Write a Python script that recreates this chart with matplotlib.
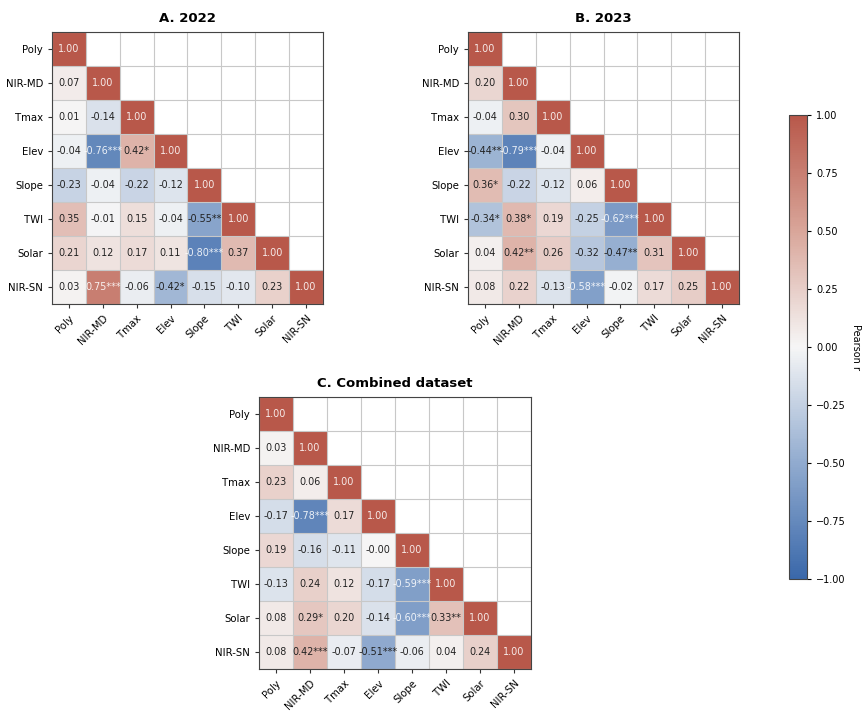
import numpy as np
import matplotlib
matplotlib.use("Agg")
import matplotlib.pyplot as plt
from matplotlib.colors import LinearSegmentedColormap
from matplotlib.ticker import FuncFormatter

variables = ["Poly", "NIR-MD", "Tmax", "Elev", "Slope", "TWI", "Solar", "NIR-SN"]

# lower triangle, row by row (row i has i values left of the diagonal)
r_2022 = [
    [],
    [0.07],
    [0.01, -0.14],
    [-0.04, -0.76, 0.42],
    [-0.23, -0.04, -0.22, -0.12],
    [0.35, -0.01, 0.15, -0.04, -0.55],
    [0.21, 0.12, 0.17, 0.11, -0.80, 0.37],
    [0.03, 0.75, -0.06, -0.42, -0.15, -0.10, 0.23],
]
sig_2022 = [
    [],
    [""],
    ["", ""],
    ["", "***", "*"],
    ["", "", "", ""],
    ["", "", "", "", "**"],
    ["", "", "", "", "***", ""],
    ["", "***", "", "*", "", "", ""],
]

r_2023 = [
    [],
    [0.20],
    [-0.04, 0.30],
    [-0.44, -0.79, -0.04],
    [0.36, -0.22, -0.12, 0.06],
    [-0.34, 0.38, 0.19, -0.25, -0.62],
    [0.04, 0.42, 0.26, -0.32, -0.47, 0.31],
    [0.08, 0.22, -0.13, -0.58, -0.02, 0.17, 0.25],
]
sig_2023 = [
    [],
    [""],
    ["", ""],
    ["**", "***", ""],
    ["*", "", "", ""],
    ["*", "*", "", "", "***"],
    ["", "**", "", "", "**", ""],
    ["", "", "", "***", "", "", ""],
]

r_comb = [
    [],
    [0.03],
    [0.23, 0.06],
    [-0.17, -0.78, 0.17],
    [0.19, -0.16, -0.11, -0.00],
    [-0.13, 0.24, 0.12, -0.17, -0.59],
    [0.08, 0.29, 0.20, -0.14, -0.60, 0.33],
    [0.08, 0.42, -0.07, -0.51, -0.06, 0.04, 0.24],
]
sig_comb = [
    [],
    [""],
    ["", ""],
    ["", "***", ""],
    ["", "", "", ""],
    ["", "", "", "", "***"],
    ["", "*", "", "", "***", "**"],
    ["", "***", "", "***", "", "", ""],
]

titles = ["A. 2022", "B. 2023", "C. Combined dataset"]

cmap = LinearSegmentedColormap.from_list(
    "rb", [(0.0, "#3a68aa"), (0.25, "#91abcf"), (0.5, "#f6f6f6"),
           (0.75, "#d9a69a"), (1.0, "#b8584a")])


def build(rows):
    n = len(variables)
    m = np.full((n, n), np.nan)
    for i, row in enumerate(rows):
        for j, v in enumerate(row):
            m[i, j] = v
        m[i, i] = 1.0
    return np.ma.masked_invalid(m)


def draw(ax, rows, sigs, title):
    n = len(variables)
    m = build(rows)
    edges = np.arange(n + 1) - 0.5
    im = ax.pcolormesh(edges, edges, m, cmap=cmap, vmin=-1, vmax=1)
    ax.set_xlim(-0.5, n - 0.5)
    ax.set_ylim(n - 0.5, -0.5)
    for i in range(n):
        for j in range(i + 1):
            v = m[i, j]
            lab = f"{v:.2f}" + (sigs[i][j] if j < i else "")
            if abs(v) >= 0.56:
                ax.text(j, i, lab, ha="center", va="center", fontsize=6.9,
                        color="white", alpha=0.88)
            else:
                ax.text(j, i, lab, ha="center", va="center", fontsize=6.9,
                        color="#222222")
    ax.set_xticks(range(n))
    ax.set_yticks(range(n))
    ax.set_xticklabels(variables, rotation=45, ha="right", rotation_mode="anchor")
    ax.set_yticklabels(variables)
    ax.set_xticks(np.arange(-0.5, n, 1), minor=True)
    ax.set_yticks(np.arange(-0.5, n, 1), minor=True)
    ax.grid(which="minor", color="#c8c8c8", linewidth=0.8)
    ax.tick_params(which="minor", length=0)
    ax.tick_params(which="major", labelsize=7.3, length=3, color="#333333")
    for s in ax.spines.values():
        s.set_color("#444444")
    ax.set_title(title, fontsize=9.5, fontweight="bold", pad=7)
    return im


fig = plt.figure(figsize=(8.68, 7.17), dpi=100)
axA = fig.add_axes([0.0599, 0.576, 0.3122, 0.3794])
axB = fig.add_axes([0.5392, 0.576, 0.3122, 0.3794])
axC = fig.add_axes([0.2984, 0.0669, 0.3134, 0.3794])
cax = fig.add_axes([0.909, 0.1925, 0.0207, 0.647])

draw(axA, r_2022, sig_2022, titles[0])
draw(axB, r_2023, sig_2023, titles[1])
im = draw(axC, r_comb, sig_comb, titles[2])

cb = fig.colorbar(im, cax=cax, ticks=[-1, -0.75, -0.5, -0.25, 0, 0.25, 0.5, 0.75, 1],
                  format=FuncFormatter(lambda v, p: f"{v:.2f}".replace("-", "\u2212")))
cb.ax.tick_params(labelsize=7, length=3)
cb.outline.set_edgecolor("#444444")
cb.set_label("Pearson r", rotation=270, fontsize=7, labelpad=11)

fig.savefig("out.png", dpi=100)
